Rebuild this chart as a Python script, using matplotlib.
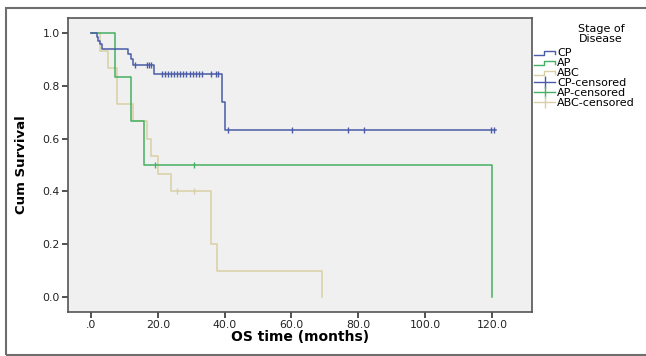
import numpy as np
import matplotlib.pyplot as plt
from matplotlib.legend_handler import HandlerBase
from matplotlib.lines import Line2D
from matplotlib.patches import Rectangle

plt.rcParams['font.family'] = ['DejaVu Sans']

# Kaplan-Meier steps
cp_t = [0, 1.7, 2.2, 2.7, 3.3, 11.2, 11.9, 12.6, 18.7, 39.1, 40.1, 121.3]
cp_s = [1.0, 0.985, 0.97, 0.96, 0.94, 0.92, 0.90, 0.88, 0.845, 0.74, 0.632, 0.632]
cp_cens = [13.2, 16.7, 17.4, 18.0, 21.2, 22.1, 23.0, 23.9, 24.9, 25.8, 26.7, 27.6,
           28.5, 29.5, 30.4, 31.3, 32.2, 33.1, 35.8, 37.3, 38.1, 41.0, 60.1, 77.0,
           81.7, 119.8, 120.7]

ap_t = [0, 7.2, 12.0, 15.9, 120.0]
ap_s = [1.0, 0.833, 0.667, 0.5, 0.0]
ap_cens = [19.0, 30.8]

abc_t = [0, 2.7, 5.0, 7.7, 12.7, 16.6, 17.8, 19.9, 23.8, 35.8, 37.8, 69.0]
abc_s = [1.0, 0.933, 0.867, 0.733, 0.667, 0.6, 0.533, 0.467, 0.4, 0.2, 0.1, 0.0]
abc_cens = [25.8, 30.8]

x_ticks = [0, 20, 40, 60, 80, 100, 120]
x_labels = ['.0', '20.0', '40.0', '60.0', '80.0', '100.0', '120.0']
y_ticks = [0.0, 0.2, 0.4, 0.6, 0.8, 1.0]

c_cp = '#4a5ca8'
c_ap = '#45b062'
c_abc = '#d8d0a4'


def surv_at(t, times, surv):
    idx = np.searchsorted(times, t, side='right') - 1
    return np.array(surv)[idx]


class StepHandler(HandlerBase):
    def create_artists(self, legend, orig, xd, yd, w, h, fontsize, trans):
        xs = [xd, xd + w * 0.45, xd + w * 0.45, xd + w, xd + w]
        ys = [yd + h * 0.15, yd + h * 0.15, yd + h * 0.7, yd + h * 0.7, yd + h * 0.3]
        ln = Line2D(xs, ys, color=orig.get_color(), lw=1, transform=trans)
        return [ln]


fig = plt.figure(figsize=(6.46, 3.56), dpi=100)
fig.add_artist(Rectangle((6 / 646, 1.5 / 356), 1.0, 347 / 356, transform=fig.transFigure,
                         fill=False, edgecolor='#6e6e6e', lw=1.5))
ax = fig.add_axes([68 / 646, 44 / 356, 464 / 646, 294 / 356])
ax.set_facecolor('#f0f0f0')

series = [('CP', cp_t, cp_s, cp_cens, c_cp),
          ('AP', ap_t, ap_s, ap_cens, c_ap),
          ('ABC', abc_t, abc_s, abc_cens, c_abc)]
step_handles = []
cens_handles = []
for name, t, s, cens, col in series[::-1]:
    h, = ax.step(t, s, where='post', color=col, lw=1.1)
    step_handles.insert(0, h)
for name, t, s, cens, col in series:
    ax.plot(cens, surv_at(cens, t, s), ls='none', marker='|', ms=5,
            mew=1.0, color=col)
    cens_handles.append(Line2D([], [], color=col, lw=1, marker='|', ms=9, mew=1))

ax.set_xlim(-6.9, 132)
ax.set_ylim(-0.057, 1.057)
ax.set_xticks(x_ticks)
ax.set_xticklabels(x_labels)
ax.set_yticks(y_ticks)
ax.set_yticklabels(['%.1f' % v for v in y_ticks])
ax.tick_params(labelsize=7.8, length=4, width=1.2, color='#333333',
               labelcolor='#222222', pad=2)
for sp in ax.spines.values():
    sp.set_color('#555555')
    sp.set_linewidth(1.2)
ax.set_xlabel('OS time (months)', fontsize=10, fontweight='bold', labelpad=0)
ax.set_ylabel('Cum Survival', fontsize=9.5, fontweight='bold', labelpad=10)

fig.text(601 / 646, 1 - 34 / 356, 'Stage of\nDisease', ha='center', va='center',
         fontsize=8, linespacing=0.95)

leg_handles = step_handles + cens_handles
leg_labels = ['CP', 'AP', 'ABC', 'CP-censored', 'AP-censored', 'ABC-censored']
hmap = {h: StepHandler() for h in step_handles}
leg = fig.legend(leg_handles, leg_labels, loc='upper left',
                 bbox_to_anchor=(534 / 646, 1 - 48 / 356), frameon=False,
                 fontsize=8, handler_map=hmap, handlelength=1.9,
                 handletextpad=0.2, labelspacing=0.0, borderpad=0,
                 borderaxespad=0, numpoints=1)

fig.savefig('out.png', dpi=100)
